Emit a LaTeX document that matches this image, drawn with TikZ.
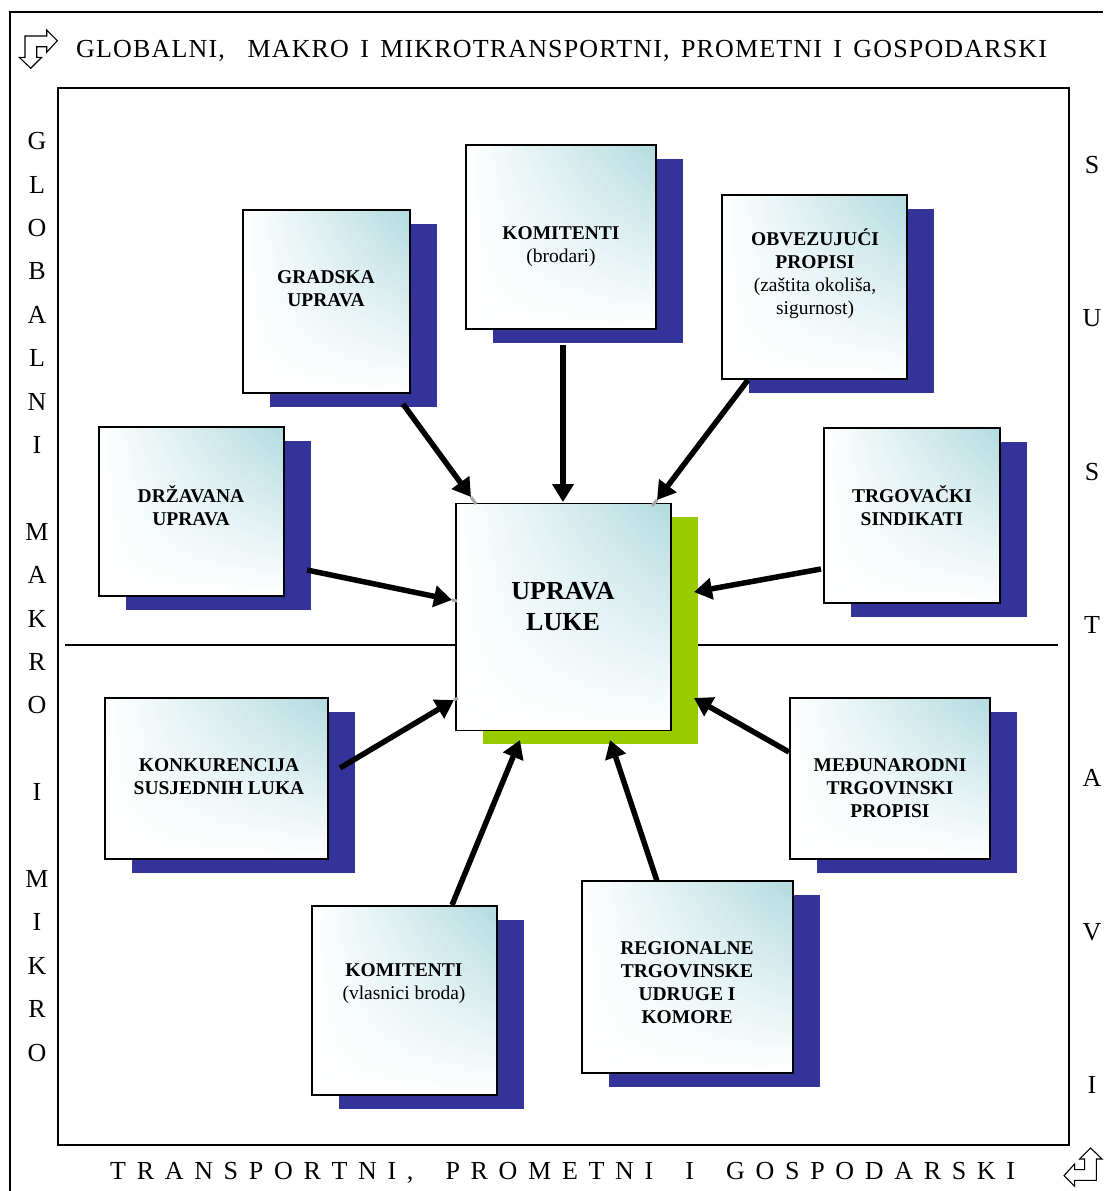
\documentclass[tikz,border=0pt]{standalone}
\usepackage{fontspec}
\setmainfont{Liberation Serif}
\usetikzlibrary{arrows.meta,shadows,shadings}
\definecolor{shblue}{RGB}{51,51,153}
\definecolor{shgreen}{RGB}{153,204,0}
\definecolor{boxcyan}{RGB}{178,219,223}
\newcommand\myCornerIcon{%
  \draw[line width=1.1pt, line join=miter]
    (57.3,40.7) -- (46.7,30) -- (46.7,36) -- (25,36) -- (25,57.3) -- (19.3,57.3)
    -- (30.7,68.3) -- (41.7,57.3) -- (36.7,57.3) -- (36.7,46.7) -- (46.7,46.7)
    -- (46.7,52.3) -- cycle;}
\tikzset{
  box/.style={draw=black, line width=1.4pt, shade, upper right=boxcyan,
    upper left=white, lower left=white, lower right=white, inner sep=0pt},
  bluebox/.style={box, general shadow={fill=shblue, shadow xshift=27pt, shadow yshift=-14pt}},
  greenbox/.style={box, general shadow={fill=shgreen, shadow xshift=27pt, shadow yshift=-13pt}},
  lbl/.style={align=center, inner sep=0pt, font=\fontsize{19.5}{23}\selectfont},
  big/.style={font=\fontsize{26}{30}\selectfont, inner sep=0pt},
  arr/.style={line width=5.5pt, -{Triangle[length=18pt,width=21pt]}},
  ext/.style={line width=3pt, gray!70},
  frame/.style={line width=1.4pt}
}
\begin{document}
\begin{tikzpicture}[x=1pt,y=-1pt]
\useasboundingbox (0,0) rectangle (1103,1191);
% frames
\draw[frame] (1103,12) -- (10,12) -- (10,1191);
\draw[frame] (58,88) rectangle (1069,1145);
% corner icons
\myCornerIcon
\begin{scope}[shift={(1121.3,1216.3)}, rotate=180]
\myCornerIcon
\end{scope}
% title texts
\node[big, anchor=base west] (title) at (76,57.6) {\addfontfeatures{LetterSpace=4.5}\makebox[971pt][s]{GLOBALNI,\ \ MAKRO I MIKROTRANSPORTNI, PROMETNI I GOSPODARSKI}};
\node[big, anchor=base west] (bottomtitle) at (110,1179.6) {\makebox[905pt][s]{T\hfill R\hfill A\hfill N\hfill S\hfill P\hfill O\hfill R\hfill T\hfill N\hfill I\hfill ,\hfill\hfill\hfill P\hfill R\hfill O\hfill M\hfill E\hfill T\hfill N\hfill I\hfill\hfill\hfill I\hfill\hfill\hfill G\hfill O\hfill S\hfill P\hfill O\hfill D\hfill A\hfill R\hfill S\hfill K\hfill I}};
% left vertical letters
\foreach \c [count=\i from 0] in {G,L,O,B,A,L,N,I,{},M,A,K,R,O,{},I,{},M,I,K,R,O}{
  \node[big, anchor=base] (lv\i) at (37,{141+43.4*\i+8.6}) {\c};
}
% right vertical letters
\foreach \c [count=\i from 0] in {S,U,S,T,A,V,I}{
  \node[big, anchor=base] (rv\i) at (1092,{165+153.3*\i+8.6}) {\c};
}
% separator line
\draw[frame] (65,645) -- (456,645);
\draw[frame] (693,645) -- (1058,645);
% boxes
\node[bluebox, minimum width=167pt, minimum height=183pt] (gradska) at (326.5,301.5) {};
\node[bluebox, minimum width=190pt, minimum height=184pt] (kom1) at (561,237) {};
\node[bluebox, minimum width=185pt, minimum height=184pt] (obvez) at (814.5,287) {};
\node[bluebox, minimum width=185pt, minimum height=169pt] (drz) at (191.5,511.5) {};
\node[bluebox, minimum width=176pt, minimum height=175pt] (trg) at (912,515.5) {};
\node[greenbox, minimum width=215pt, minimum height=227pt] (luke) at (563.5,617) {};
\node[bluebox, minimum width=223pt, minimum height=161pt] (konk) at (216.5,778.5) {};
\node[bluebox, minimum width=200pt, minimum height=161pt] (medj) at (890,778.5) {};
\node[bluebox, minimum width=185pt, minimum height=189pt] (kom2) at (404.5,1000.5) {};
\node[bluebox, minimum width=211pt, minimum height=192pt] (reg) at (687.5,977) {};
% labels
\node[lbl] (tgradska) at (326,288.5) {\textbf{GRADSKA}\\\textbf{UPRAVA}};
\node[lbl] (tkom1) at (561,247) {\textbf{KOMITENTI}\\(brodari)};
\node[lbl] (tobvez) at (815,273.5) {\textbf{OBVEZUJUĆI}\\\textbf{PROPISI}\\(zaštita okoliša,\\sigurnost)};
\node[lbl] (tdrz) at (191,506) {\textbf{DRŽAVANA}\\\textbf{UPRAVA}};
\node[lbl] (ttrg) at (912,506) {\textbf{TRGOVAČKI}\\\textbf{SINDIKATI}};
\node[align=center, inner sep=0pt, font=\bfseries\fontsize{26}{31}\selectfont] (tluke) at (563,606.5) {UPRAVA\\LUKE};
\node[lbl] (tkonk) at (219,776.5) {\textbf{KONKURENCIJA}\\\textbf{SUSJEDNIH LUKA}};
\node[lbl] (tmedj) at (890,788) {\textbf{MEĐUNARODNI}\\\textbf{TRGOVINSKI}\\\textbf{PROPISI}};
\node[lbl] (tkom2) at (404,984) {\textbf{KOMITENTI}\\(vlasnici broda)};
\node[lbl] (treg) at (687,982.5) {\textbf{REGIONALNE}\\\textbf{TRGOVINSKE}\\\textbf{UDRUGE I}\\\textbf{KOMORE}};
% arrow coordinates
\coordinate (s1) at (403,404); \coordinate (t1) at (471,497); \coordinate (e1) at (476,504);
\coordinate (s2) at (563,345); \coordinate (t2) at (563,502);
\coordinate (s3) at (748,380); \coordinate (t3) at (657,500); \coordinate (e3) at (652,506);
\coordinate (s4) at (307,570); \coordinate (t4) at (452,600); \coordinate (e4) at (457,601);
\coordinate (s5) at (821,569); \coordinate (t5) at (694,592);
\coordinate (s6) at (340,768); \coordinate (t6) at (454,700); \coordinate (e6) at (458,698);
\coordinate (s7) at (789,752); \coordinate (t7) at (694,698);
\coordinate (s8) at (452,905); \coordinate (t8) at (520,740);
\coordinate (s9) at (657,881); \coordinate (t9) at (610,740);
% arrow shadows
\draw[ext] (t1) -- (e1);
\draw[ext] (t3) -- (e3);
\draw[ext] (t4) -- (e4);
\draw[ext] (t6) -- (e6);
% arrows
\foreach \k in {1,...,9}{
  \draw[arr] (s\k) -- (t\k);
}
\end{tikzpicture}
\end{document}
